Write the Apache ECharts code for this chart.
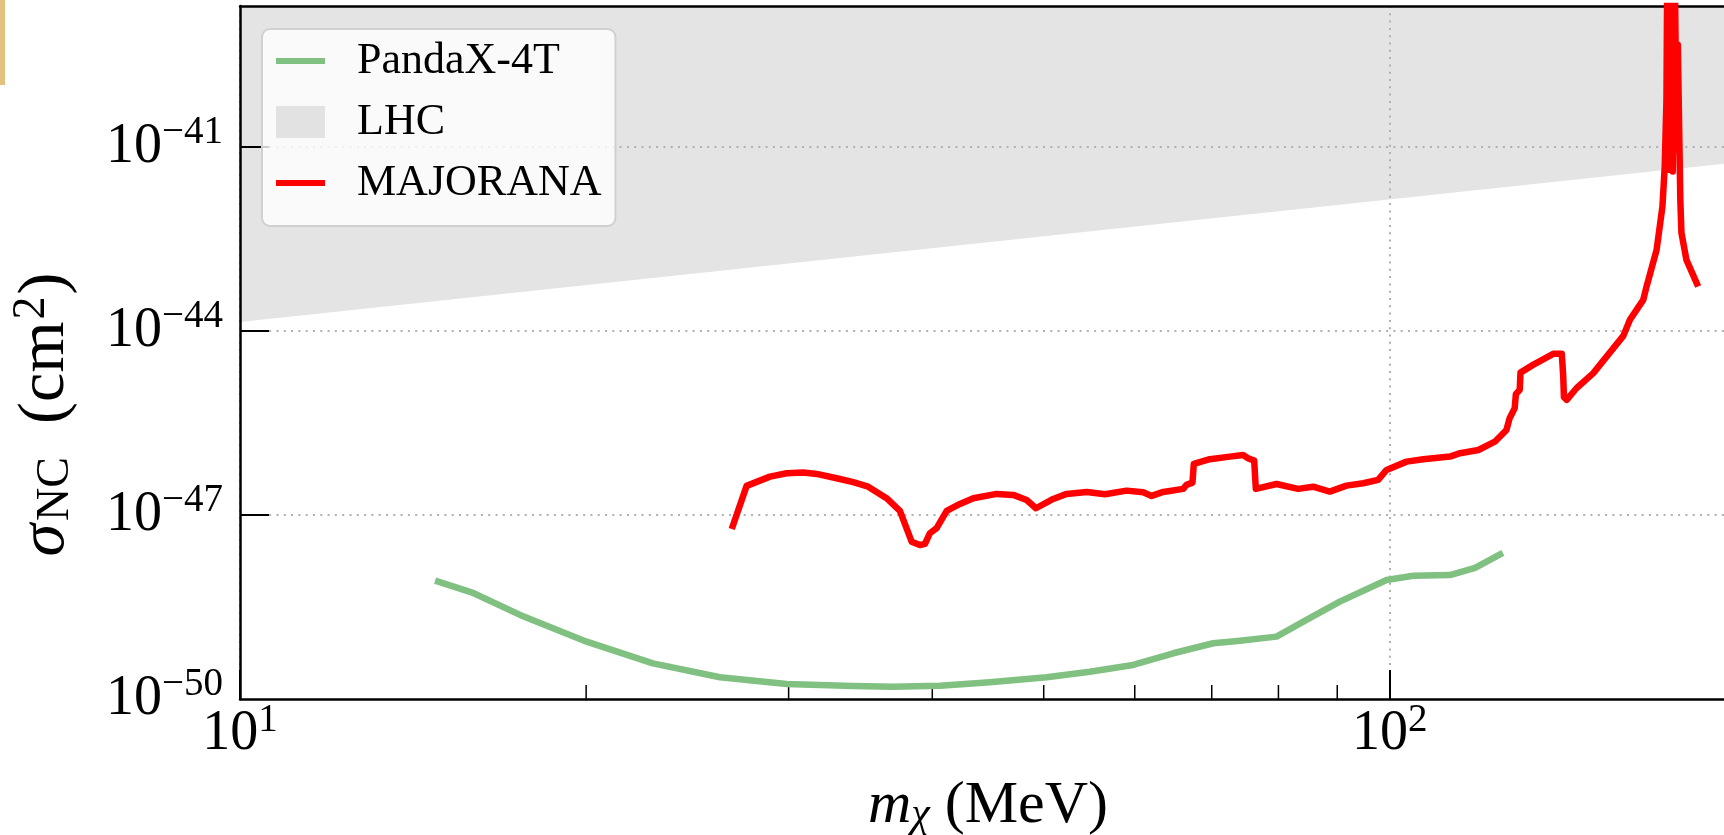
<!DOCTYPE html>
<html>
<head>
<meta charset="utf-8">
<script src="https://cdn.jsdelivr.net/npm/echarts@6/dist/echarts.min.js"></script>
<style>
html,body{margin:0;padding:0;background:#fff;}
#chart{width:1724px;height:835px;}
</style>
</head>
<body>
<div id="chart"></div>
<script>
// ---- data ----
const xRange = [10, 200];
const yRange = [1e-50, 2e-39];
const xMinorTicks = [20, 30, 40, 50, 60, 70, 80, 90];

// LHC excluded band: lower boundary (filled up to the top of the plot)
const lhcBoundary = [[10, 1.4e-44], [200, 5.6e-42]];

// PandaX-4T limit
const pandaX = [
  [14.78, 8.5e-49], [15.90, 5.5e-49], [17.52, 2.35e-49], [20.02, 8.6e-50],
  [22.86, 3.82e-50], [26.15, 2.26e-50], [29.88, 1.76e-50], [34.12, 1.63e-50],
  [36.97, 1.59e-50], [40.62, 1.65e-50], [44.89, 1.87e-50], [50.29, 2.26e-50],
  [54.83, 2.79e-50], [59.80, 3.59e-50], [64.81, 5.57e-50], [70.21, 8.11e-50],
  [74.08, 8.93e-50], [79.70, 1.04e-49], [84.62, 1.95e-49], [90.46, 3.87e-49],
  [99.34, 8.73e-49], [104.8, 1.02e-48], [112.8, 1.05e-48], [118.6, 1.37e-48],
  [125.4, 2.41e-48]
];

// MAJORANA limit
const majorana = [
  [26.77, 5.93e-48], [27.58, 2.99e-47], [28.90, 4.23e-47], [29.88, 4.81e-47],
  [30.89, 4.92e-47], [31.73, 4.68e-47], [33.03, 3.98e-47], [34.14, 3.43e-47],
  [35.18, 2.90e-47], [36.50, 1.88e-47], [37.49, 1.17e-47], [38.38, 3.68e-48],
  [39.02, 3.25e-48], [39.42, 3.38e-48], [39.81, 5.05e-48], [40.35, 6.10e-48],
  [41.17, 1.17e-47], [42.28, 1.52e-47], [43.43, 1.88e-47], [45.50, 2.21e-47],
  [47.04, 2.13e-47], [48.32, 1.76e-47], [49.23, 1.29e-47], [50.96, 1.83e-47],
  [52.35, 2.21e-47], [54.50, 2.38e-47], [56.53, 2.18e-47], [59.02, 2.50e-47],
  [61.02, 2.35e-47], [62.06, 2.05e-47], [63.52, 2.38e-47], [66.11, 2.67e-47],
  [66.55, 3.10e-47], [67.35, 3.38e-47], [67.53, 6.82e-47], [69.73, 8.13e-47],
  [72.58, 8.97e-47], [74.53, 9.55e-47], [75.28, 8.45e-47], [76.21, 7.71e-47],
  [76.46, 2.67e-47], [79.70, 3.21e-47], [83.22, 2.67e-47], [85.75, 2.90e-47],
  [88.66, 2.41e-47], [91.69, 3.02e-47], [94.80, 3.30e-47], [97.68, 3.74e-47],
  [99.34, 5.44e-47], [103.4, 7.43e-47], [106.9, 8.13e-47], [112.8, 8.97e-47],
  [115.1, 1.02e-46], [119.4, 1.15e-46], [123.4, 1.57e-46], [126.3, 2.44e-46],
  [127.1, 3.79e-46], [128.4, 5.52e-46], [128.7, 9.35e-46], [129.7, 1.10e-45],
  [129.9, 2.10e-45], [133.2, 2.81e-45], [138.7, 4.25e-45], [141.1, 4.25e-45],
  [141.5, 1.86e-45], [141.7, 8.35e-46], [142.5, 7.55e-46], [145.3, 1.17e-45],
  [150.3, 2.06e-45], [152.3, 2.81e-45], [159.6, 8.35e-45], [161.7, 1.52e-44],
  [166.1, 3.23e-44], [167.2, 5.32e-44], [170.6, 2.11e-43], [172.6, 1.07e-42],
  [173.4, 4.82e-42], [174.0, 5.92e-41], [174.3, 1e-38], [174.8, 4.27e-42],
  [175.5, 1e-38], [176.2, 4.0e-42], [176.9, 1e-38], [177.6, 9.0e-42],
  [178.0, 4.67e-40], [178.7, 4.67e-40], [178.9, 1.38e-42], [179.3, 4.0e-43],
  [181.1, 1.45e-43], [185.4, 5.32e-44]
];

const seriesNames = ['PandaX-4T', 'LHC', 'MAJORANA'];
const colors = {pandaX: '#80c080', lhc: '#e4e4e4', majorana: '#ff0000'};

// ---- chart ----
const FONT = '"Liberation Serif", "Times New Roman", serif';
const chart = echarts.init(document.getElementById('chart'), null, {renderer: 'canvas'});

function isInt(e) { return Math.abs(e - Math.round(e)) < 1e-6; }
function supLabel(e) {
  e = Math.round(e);
  return '{b|10}{s|' + (e < 0 ? '\u2212' : '') + Math.abs(e) + '}';
}
const tickRich = {
  b: {fontSize: 56, fontFamily: FONT, color: '#000'},
  s: {fontSize: 39, fontFamily: FONT, color: '#000', padding: [0, 0, 28, 0]}
};
// x axis: log axis, value is the mass
const xTickFormatter = v => isInt(Math.log10(v)) ? supLabel(Math.log10(v)) : '';
// y labels: drawn on an exponent (log10) axis that spans exactly the same range
const yExpRange = [Math.log10(yRange[0]), Math.log10(yRange[1])];
const yTickFormatter = e => isInt(e) ? supLabel(e) : '';

const LINE_ICON = 'path://M0,0L49,0L49,6L0,6Z';
const GRID_RECT = {left: 240, right: -12, top: 6, bottom: 136, containLabel: false, outerBoundsMode: 'none'};
const dotted = {color: '#b0b0b0', width: 2, type: [2, 5.3]};

const option = {
  animation: false,
  backgroundColor: '#ffffff',
  grid: [Object.assign({}, GRID_RECT), Object.assign({}, GRID_RECT)],
  graphic: [{
    type: 'rect', left: 0, top: 0, z: 100,
    shape: {width: 5, height: 85},
    style: {fill: '#e2c27d'}
  }],
  legend: {
    orient: 'vertical',
    left: 262, top: 29,
    z: 20,
    itemWidth: 49, itemHeight: 32, itemGap: 17,
    padding: [10, 14, 21, 14],
    backgroundColor: 'rgba(255,255,255,0.8)',
    borderColor: '#d0d0d0', borderWidth: 2, borderRadius: 8,
    selectedMode: false,
    symbolKeepAspect: true,
    textStyle: {fontFamily: FONT, fontSize: 44, color: '#000', padding: [0, 0, 0, 27]},
    data: [
      {name: seriesNames[0], icon: LINE_ICON, itemStyle: {color: colors.pandaX, borderWidth: 0}},
      {name: seriesNames[1], icon: 'rect', itemStyle: {color: '#e2e2e2', borderWidth: 0}},
      {name: seriesNames[2], icon: LINE_ICON, itemStyle: {color: colors.majorana, borderWidth: 0}}
    ]
  },
  xAxis: [{
    gridIndex: 0,
    type: 'log', logBase: 10,
    min: xRange[0], max: xRange[1], interval: 1,
    z: 3,
    axisLine: {show: true, lineStyle: {color: '#000', width: 2.5}},
    axisTick: {show: true, inside: true, length: 29, lineStyle: {color: '#000', width: 2}},
    minorTick: {show: false},
    splitLine: {show: true, lineStyle: dotted},
    axisLabel: {
      margin: 2, showMaxLabel: false, showMinLabel: true, hideOverlap: false,
      formatter: xTickFormatter, rich: tickRich
    },
    name: '{i|m}{sub|\u03c7}{r| (MeV)}',
    nameLocation: 'middle', nameGap: 77, nameMoveOverlap: false,
    nameTextStyle: {
      rich: {
        i: {fontSize: 60, fontFamily: FONT, fontStyle: 'italic', color: '#000'},
        sub: {fontSize: 42, fontFamily: FONT, fontStyle: 'italic', color: '#000', padding: [18, 0, 0, 0]},
        r: {fontSize: 60, fontFamily: FONT, color: '#000'}
      }
    }
  }, {
    gridIndex: 0,
    type: 'log', logBase: 10, position: 'top',
    min: xRange[0], max: xRange[1],
    z: 3,
    axisLine: {show: true, lineStyle: {color: '#000', width: 2.5}},
    axisTick: {show: false}, axisLabel: {show: false}, splitLine: {show: false}
  }, {
    gridIndex: 1,
    type: 'log', logBase: 10,
    min: xRange[0], max: xRange[1],
    show: false
  }],
  yAxis: [{
    gridIndex: 0,
    type: 'log', logBase: 10,
    min: yRange[0], max: yRange[1], interval: 3,
    z: 3,
    axisLine: {show: true, lineStyle: {color: '#000', width: 2.5}},
    axisTick: {show: true, inside: true, length: 29, lineStyle: {color: '#000', width: 2}},
    splitLine: {show: true, lineStyle: dotted},
    axisLabel: {show: false},
    name: '{i|\u03c3}{sub|NC}{r|  (cm}{sup|2}{r|)}',
    nameLocation: 'middle', nameRotate: 90, nameGap: 158, nameMoveOverlap: false,
    nameTextStyle: {
      padding: [0, 124, 0, 0],
      rich: {
        i: {fontSize: 66, fontFamily: FONT, fontStyle: 'italic', color: '#000', padding: [0, 3, 0, 0]},
        sub: {fontSize: 46, fontFamily: FONT, color: '#000', padding: [20, 0, 0, 0]},
        sup: {fontSize: 46, fontFamily: FONT, color: '#000', padding: [0, 2, 27, 2]},
        r: {fontSize: 66, fontFamily: FONT, color: '#000'}
      }
    }
  }, {
    gridIndex: 1,
    type: 'value',
    min: yExpRange[0], max: yExpRange[1], interval: 3,
    axisLine: {show: false}, axisTick: {show: false}, splitLine: {show: false},
    axisLabel: {
      margin: 17, showMaxLabel: false, showMinLabel: true, hideOverlap: false,
      formatter: yTickFormatter, rich: tickRich
    }
  }],
  series: [{
    name: seriesNames[1],
    type: 'custom', z: 1, silent: true, clip: true,
    itemStyle: {color: colors.lhc},
    data: lhcBoundary,
    renderItem: function (params, api) {
      if (params.dataIndexInside !== 0) return null;
      const pts = lhcBoundary.map(d => api.coord(d));
      pts.push(api.coord([lhcBoundary[lhcBoundary.length - 1][0], yRange[1]]));
      pts.push(api.coord([lhcBoundary[0][0], yRange[1]]));
      return {type: 'polygon', shape: {points: pts}, style: {fill: colors.lhc}};
    }
  }, {
    name: seriesNames[0],
    type: 'line', z: 5,
    data: pandaX,
    symbol: 'none', silent: true,
    color: colors.pandaX,
    lineStyle: {width: 6.5, color: colors.pandaX, cap: 'butt', join: 'round'}
  }, {
    name: seriesNames[2],
    type: 'line', z: 6,
    data: majorana,
    symbol: 'none', silent: true,
    color: colors.majorana,
    lineStyle: {width: 6.5, color: colors.majorana, cap: 'butt', join: 'round'}
  }, {
    name: 'minorTicks',
    type: 'custom', z: 4, silent: true,
    data: xMinorTicks.map(x => [x, yRange[0]]),
    renderItem: function (params, api) {
      const p = api.coord([api.value(0), api.value(1)]);
      return {
        type: 'line',
        shape: {x1: p[0], y1: p[1], x2: p[0], y2: p[1] - 14},
        style: {stroke: '#000', lineWidth: 1.5}
      };
    }
  }]
};
chart.setOption(option);
</script>
</body>
</html>
